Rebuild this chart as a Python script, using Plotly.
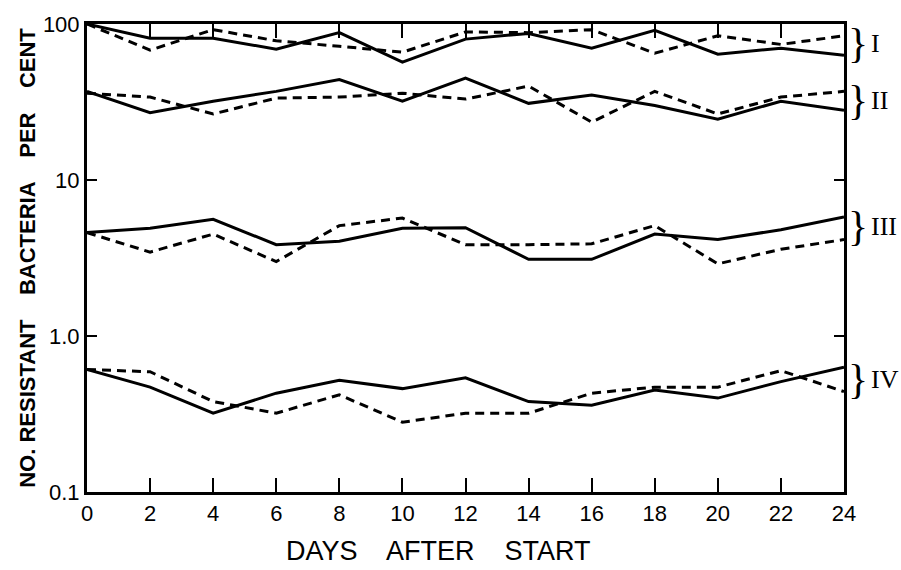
import plotly.graph_objects as go
import math

days = [0, 2, 4, 6, 8, 10, 12, 14, 16, 18, 20, 22, 24]

# Group I
g1_solid = [100, 81, 81, 69, 88, 57, 80, 87, 70, 91, 64, 70, 63]
g1_dash = [100, 68, 92, 78, 72, 66, 89, 88, 92, 65, 84, 74, 84]
# Group II
g2_solid = [37, 27, 32, 37, 44, 32, 45, 31, 35, 30, 24.5, 32, 28]
g2_dash = [36, 34, 26.5, 33.5, 34, 36, 33, 40, 23.5, 37, 26.5, 34, 37]
# Group III
g3_solid = [4.6, 4.9, 5.6, 3.85, 4.05, 4.9, 4.95, 3.1, 3.1, 4.5, 4.15, 4.8, 5.8]
g3_dash = [4.6, 3.45, 4.5, 3.0, 5.1, 5.7, 3.85, 3.85, 3.9, 5.1, 2.9, 3.6, 4.15]
# Group IV
g4_solid = [0.61, 0.47, 0.32, 0.43, 0.52, 0.46, 0.54, 0.38, 0.36, 0.45, 0.40, 0.51, 0.63]
g4_dash = [0.61, 0.59, 0.38, 0.32, 0.42, 0.28, 0.32, 0.32, 0.43, 0.47, 0.47, 0.60, 0.44]

group_labels = ["I", "II", "III", "IV"]
group_centres = [75, 32.4, 5.05, 0.53]

y_tickvals = [0.1, 1, 10, 100]
y_ticktext = ["0.1", "1.0", "10", "100"]

fig = go.Figure()
for solid, dash in [(g1_solid, g1_dash), (g2_solid, g2_dash), (g3_solid, g3_dash), (g4_solid, g4_dash)]:
    fig.add_trace(go.Scatter(x=days, y=solid, mode="lines",
                             line=dict(color="black", width=3), showlegend=False))
    fig.add_trace(go.Scatter(x=days, y=dash, mode="lines",
                             line=dict(color="black", width=3, dash="9px,6px"), showlegend=False))

for lab, c in zip(group_labels, group_centres):
    fig.add_annotation(x=1.0, xref="paper", y=math.log10(c), yref="y",
                       text="}", showarrow=False, xanchor="left", yanchor="middle",
                       xshift=2, font=dict(family="Liberation Serif", size=42, color="black"))
    fig.add_annotation(x=1.0, xref="paper", y=math.log10(c), yref="y",
                       text=lab, showarrow=False, xanchor="left", yanchor="middle",
                       xshift=25, font=dict(family="Liberation Serif", size=26, color="black"))

# x-axis title (slightly left of centre, as in the original)
fig.add_annotation(x=0.464, xref="paper", y=0, yref="paper", yshift=-42,
                   text="DAYS    AFTER    START", showarrow=False,
                   xanchor="center", yanchor="top",
                   font=dict(size=27, family="Liberation Sans", color="black"))

fig.update_layout(
    width=901, height=570,
    margin=dict(l=87, r=57, t=15, b=78),
    paper_bgcolor="white", plot_bgcolor="white",
    font=dict(family="Liberation Sans", color="black"),
)
fig.update_xaxes(
    range=[0, 24], tickvals=days, ticktext=[str(d) for d in days],
    showline=True, linecolor="black", linewidth=3, mirror="ticks",
    ticks="inside", ticklen=14, tickwidth=2, tickcolor="black",
    showgrid=False, zeroline=False,
    tickfont=dict(size=22, family="Liberation Sans"),
)
fig.update_yaxes(
    type="log", range=[-1, 2], tickvals=y_tickvals, ticktext=y_ticktext,
    showline=True, linecolor="black", linewidth=3, mirror="ticks",
    ticks="inside", ticklen=10, tickwidth=2, tickcolor="black",
    showgrid=False, zeroline=False,
    tickfont=dict(size=22, family="Liberation Sans"),
    title=dict(text="NO. RESISTANT    BACTERIA    PER    CENT",
               font=dict(size=22, family="Liberation Sans", weight="bold"), standoff=2),
)

fig.write_html("out.html")
